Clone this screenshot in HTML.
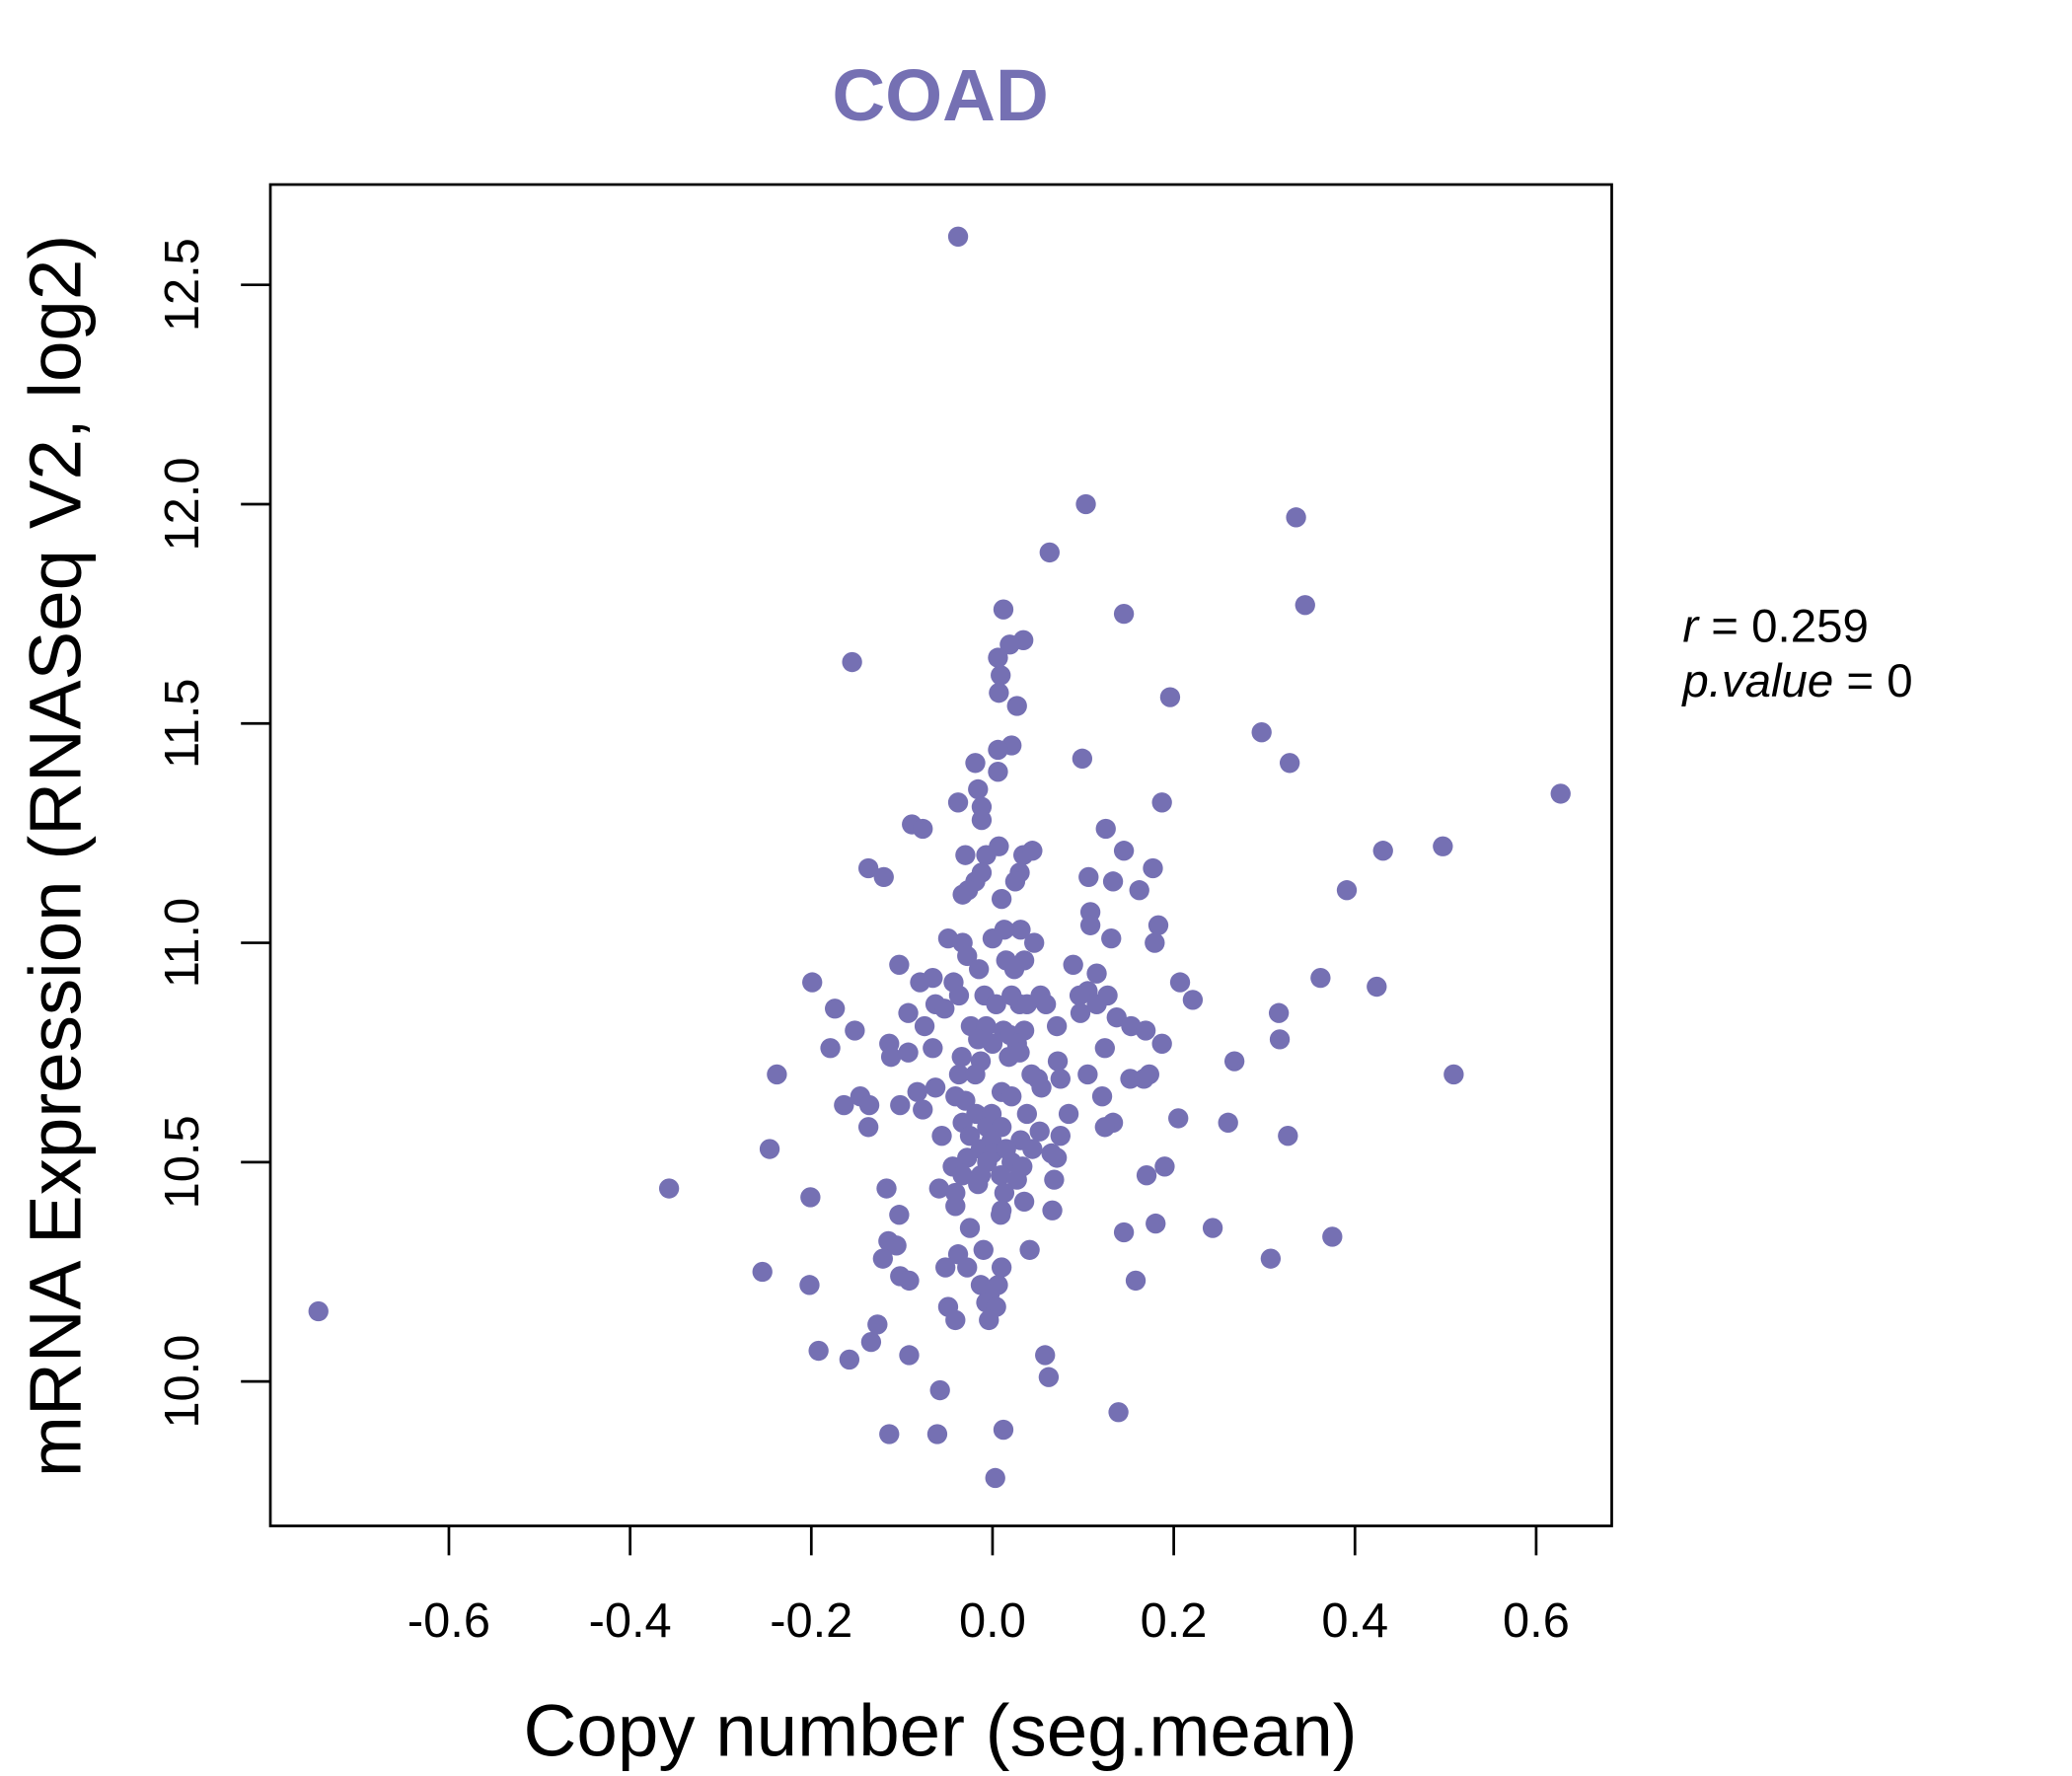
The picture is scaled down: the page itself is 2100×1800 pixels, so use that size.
<!DOCTYPE html>
<html><head><meta charset="utf-8"><style>
html,body{margin:0;padding:0;background:#fff;}
svg{display:block;font-family:"Liberation Sans",Arial,sans-serif;}
</style></head><body>
<svg id="chart" width="2100" height="1800" viewBox="0 0 1549 1328" xmlns="http://www.w3.org/2000/svg">
<rect width="1549" height="1328" fill="#fff"/>
<text x="703" y="90" text-anchor="middle" font-size="55" font-weight="bold" fill="#7570b3">COAD</text>
<rect x="202" y="138" width="1003" height="1003" fill="none" stroke="#000" stroke-width="2"/>
<g id="xaxis"></g>
<g id="yaxis"></g>
<g id="points"></g>
<text x="703" y="1313" text-anchor="middle" font-size="55">Copy number (seg.mean)</text>
<text transform="translate(60,640) rotate(-90)" text-anchor="middle" font-size="55">mRNA Expression (RNASeq V2, log2)</text>
<text x="1258" y="480" font-size="35"><tspan font-style="italic">r</tspan> = 0.259</text>
<text x="1258" y="521" font-size="35"><tspan font-style="italic">p.value</tspan> = 0</text>
</svg>
<script>
const xTicks=[-0.6,-0.4,-0.2,0.0,0.2,0.4,0.6];
const xTickLabels=["-0.6","-0.4","-0.2","0.0","0.2","0.4","0.6"];
const yTicks=[10.0,10.5,11.0,11.5,12.0,12.5];
const yTickLabels=["10.0","10.5","11.0","11.5","12.0","12.5"];
const xVals=[-0.744,-0.357,-0.155,-0.038,0.103,0.335,0.063,0.345,0.145,0.012,0.034,0.019,0.006,0.009,0.007,0.027,0.196,0.297,0.328,0.099,0.021,0.006,0.006,-0.019,-0.016,-0.038,-0.012,-0.012,0.187,0.627,0.497,0.431,0.125,0.145,-0.089,-0.077,0.007,-0.030,-0.007,0.034,0.044,0.030,0.025,-0.012,-0.019,-0.027,-0.033,0.010,-0.137,-0.120,0.177,0.133,0.106,0.162,0.391,0.108,0.108,0.183,0.179,0.131,0.031,0.013,0.000,-0.049,-0.033,0.046,-0.028,0.035,0.015,0.024,-0.015,-0.103,-0.066,-0.080,-0.043,-0.199,0.089,0.115,0.105,0.096,0.127,0.207,0.221,0.362,0.424,0.316,0.317,-0.174,-0.093,-0.063,-0.053,-0.037,-0.009,0.004,0.021,0.030,0.038,0.053,0.059,0.097,0.115,0.137,0.153,0.169,0.187,-0.152,-0.075,-0.024,-0.007,0.012,0.019,0.035,-0.016,0.000,0.027,0.071,-0.179,-0.114,-0.112,-0.093,-0.066,-0.034,-0.013,0.018,0.030,0.072,0.124,0.267,-0.238,-0.037,-0.019,0.043,0.050,0.075,0.105,0.152,0.167,0.173,0.509,-0.063,0.054,-0.146,-0.083,-0.041,-0.030,0.010,0.021,0.121,-0.164,-0.136,-0.102,-0.077,-0.018,-0.001,0.038,0.084,0.205,0.133,0.260,0.124,-0.137,-0.033,-0.006,0.010,-0.025,-0.001,0.031,0.052,0.075,0.326,-0.056,-0.013,0.000,0.015,0.044,0.065,0.071,-0.246,-0.028,-0.006,0.021,0.033,-0.044,-0.033,-0.013,0.009,0.027,0.068,0.190,0.170,-0.117,-0.016,-0.059,-0.041,-0.201,0.013,0.035,-0.041,0.010,0.066,0.009,-0.103,-0.025,0.180,0.145,0.243,0.375,-0.115,-0.106,-0.121,0.041,-0.010,-0.038,0.307,-0.052,0.010,-0.028,-0.254,-0.102,-0.092,0.158,-0.013,0.006,-0.202,-0.003,-0.007,-0.049,0.004,-0.041,-0.004,-0.127,-0.134,-0.192,-0.092,-0.158,0.058,0.062,-0.058,0.139,0.012,-0.114,-0.061,0.003];
const yVals=[10.16,10.44,11.64,12.61,12.00,11.97,11.89,11.77,11.75,11.76,11.69,11.68,11.65,11.61,11.57,11.54,11.56,11.48,11.41,11.42,11.45,11.44,11.39,11.41,11.35,11.32,11.31,11.28,11.32,11.34,11.22,11.21,11.26,11.21,11.27,11.26,11.22,11.20,11.20,11.20,11.21,11.16,11.14,11.16,11.14,11.12,11.11,11.10,11.17,11.15,11.17,11.14,11.15,11.12,11.12,11.07,11.04,11.04,11.00,11.01,11.03,11.03,11.01,11.01,11.00,11.00,10.97,10.96,10.96,10.94,10.94,10.95,10.92,10.91,10.91,10.91,10.95,10.93,10.89,10.88,10.88,10.91,10.87,10.92,10.90,10.84,10.78,10.85,10.84,10.86,10.85,10.88,10.88,10.86,10.88,10.86,10.86,10.88,10.86,10.84,10.86,10.83,10.81,10.80,10.77,10.80,10.81,10.81,10.81,10.80,10.79,10.80,10.78,10.77,10.77,10.81,10.76,10.77,10.74,10.75,10.76,10.74,10.73,10.74,10.75,10.73,10.76,10.73,10.70,10.70,10.70,10.70,10.69,10.69,10.70,10.69,10.69,10.70,10.70,10.67,10.67,10.65,10.66,10.65,10.64,10.66,10.65,10.65,10.63,10.63,10.63,10.62,10.61,10.61,10.61,10.61,10.60,10.59,10.59,10.58,10.58,10.59,10.58,10.58,10.56,10.55,10.55,10.57,10.56,10.56,10.56,10.53,10.52,10.53,10.53,10.52,10.51,10.53,10.51,10.50,10.50,10.49,10.49,10.47,10.47,10.47,10.46,10.46,10.49,10.47,10.44,10.45,10.44,10.43,10.42,10.43,10.41,10.40,10.39,10.39,10.38,10.38,10.35,10.36,10.34,10.35,10.33,10.32,10.31,10.28,10.30,10.30,10.29,10.28,10.26,10.26,10.26,10.25,10.24,10.23,10.23,10.22,10.22,10.22,10.20,10.18,10.17,10.17,10.14,10.14,10.13,10.09,10.07,10.06,10.05,10.06,10.01,9.98,9.93,9.89,9.88,9.88,9.78];
const NS="http://www.w3.org/2000/svg";
function xScale(v){return 742+v*677.5;}
function yScale(v){return 1033-(v-10)*328;}
const xg=document.getElementById('xaxis'),yg=document.getElementById('yaxis'),pg=document.getElementById('points');
function mk(tag,attrs){const e=document.createElementNS(NS,tag);for(const k in attrs)e.setAttribute(k,attrs[k]);return e;}
xTicks.forEach((t,i)=>{
  const x=xScale(t);
  const l=mk('line',{x1:x,x2:x,y1:1141,y2:1163,stroke:'#000','stroke-width':2});
  
  
  xg.appendChild(l);
  const tx=mk('text',{x:x,y:1224,'text-anchor':'middle','font-size':36});
  
  
  tx.textContent=xTickLabels[i];xg.appendChild(tx);
});
yTicks.forEach((t,i)=>{
  const y=yScale(t);
  const l=mk('line',{x1:180,x2:202,y1:y,y2:y,stroke:'#000','stroke-width':2});
  
  
  yg.appendChild(l);
  const tx=mk('text',{transform:`translate(148,${y}) rotate(-90)`,'text-anchor':'middle','font-size':36});
  
  
  tx.textContent=yTickLabels[i];yg.appendChild(tx);
});
xVals.forEach((v,i)=>{
  const c=mk('circle',{cx:xScale(v),cy:yScale(yVals[i]),r:7.5,fill:'#7570b3'});
  
  
  pg.appendChild(c);
});
</script>
</body></html>
